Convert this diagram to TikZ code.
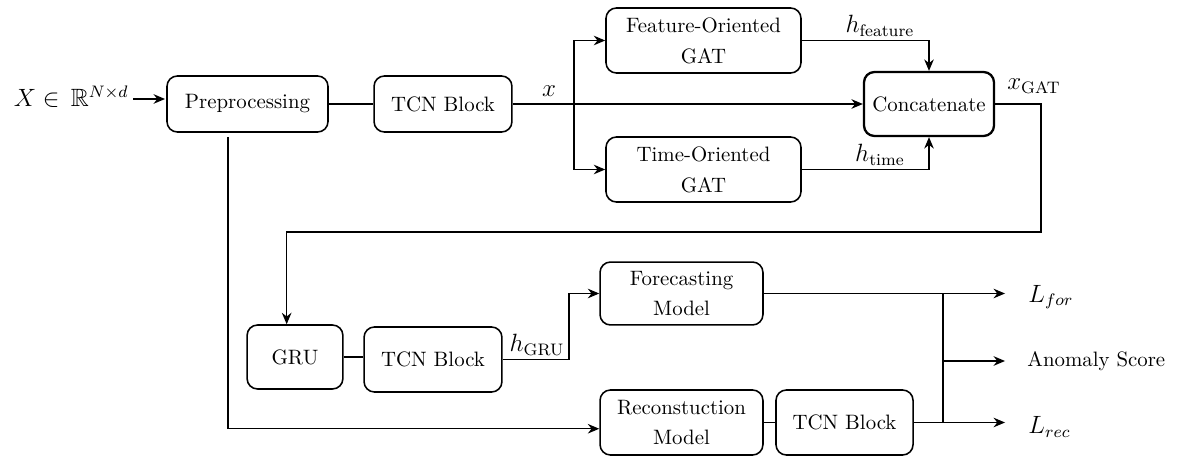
\documentclass[tikz,border=0pt]{standalone}
\usepackage{amsmath,amssymb}
\usetikzlibrary{arrows.meta}
\begin{document}
\begin{tikzpicture}[x=0.48pt,y=-0.48pt,
  box/.style={draw,line width=0.75pt,rounded corners=5pt,align=center,inner sep=0pt,font=\normalsize},
  conn/.style={line width=0.6pt},
  arr/.style={conn,-{Stealth[length=5.5pt,width=4.6pt]}},
  lbl/.style={inner sep=0pt,font=\large}]
\useasboundingbox (0,0) rectangle (1184,460);

% upper path: preprocessing, temporal conv block, two graph attention branches
\node[box,minimum width=77.3pt,minimum height=26.9pt] (pre) at (247.5,104) {Preprocessing};
\node[box,minimum width=66.2pt,minimum height=26.9pt] (tcna) at (443,104) {TCN Block};
\node[box,minimum width=93.6pt,minimum height=31.2pt] (feat) at (703.5,40.5) {Feature-Oriented\\[2.8pt]GAT};
\node[box,minimum width=93.6pt,minimum height=31.2pt] (time) at (703.5,169.5) {Time-Oriented\\[2.8pt]GAT};
\node[box,line width=1.1pt,minimum width=62.4pt,minimum height=30.7pt] (cat) at (929,104) {Concatenate};

% lower path: recurrent unit, second conv block, forecasting and reconstruction heads
\node[box,minimum width=46pt,minimum height=30.7pt] (gru) at (295,357) {GRU};
\node[box,minimum width=66.2pt,minimum height=31.2pt] (tcnb) at (433,359.5) {TCN Block};
\node[box,minimum width=78.2pt,minimum height=30.2pt] (fore) at (681.5,293.5) {Forecasting\\[2.8pt]Model};
\node[box,minimum width=78.2pt,minimum height=31.2pt] (rec) at (681.5,422.5) {Reconstuction\\[2.8pt]Model};
\node[box,minimum width=65.8pt,minimum height=31.2pt] (tcnc) at (844.5,422.5) {TCN Block};

% input and labels
\node[lbl,anchor=east] (in) at (129,97) {$X \in\,\mathbb{R}^{N\times d}$};
\node[lbl] (lx) at (549,91) {$x$};
\node[lbl] (lhf) at (880,26) {$h_{\text{feature}}$};
\node[lbl] (lht) at (880,155) {$h_{\text{time}}$};
\node[lbl] (lxg) at (1034,86) {$x_{\text{GAT}}$};
\node[lbl] (lhg) at (537,345) {$h_{\text{GRU}}$};
\node[lbl,anchor=west] (lfor) at (1028,297) {$L_{for}$};
\node[lbl,anchor=west,font=\normalsize] (lsc) at (1027,361) {Anomaly Score};
\node[lbl,anchor=west] (lrec) at (1028,427) {$L_{rec}$};

% routing points
\coordinate (inend) at (165,99);
\coordinate (br) at (574,104);
\coordinate (down) at (1041,232);
\coordinate (skip) at (228,137);
\coordinate (up) at (569,359.5);
\coordinate (bus) at (943,293.5);
\coordinate (tfor) at (1005,293.5);
\coordinate (tsc) at (1005,361);
\coordinate (trec) at (1005,422.5);

% connectors
\draw[arr] ([xshift=2pt]in.east |- inend) -- (inend);
\draw[conn] (pre) -- (tcna);
\draw[arr] (tcna) -- (cat);
\draw[arr] (br) |- (feat.west);
\draw[arr] (br) |- (time.west);
\draw[arr] (feat.east) -| (cat.north);
\draw[arr] (time.east) -| (cat.south);
\draw[arr] (cat.east) -| (down) -| ([xshift=-4pt]gru.north);
\draw[conn] (gru) -- (gru -| tcnb.west);
\draw[arr] (tcnb.east) -- (up) |- (fore.west);
\draw[arr] (skip) |- ([yshift=-3pt]rec.west);
\draw[conn] (rec) -- (tcnc);
\draw[arr] (fore.east) -- (tfor);
\draw[arr] (tcnc.east) -- (trec);
\draw[conn] (bus) -- (bus |- trec);
\draw[arr] (bus |- tsc) -- (tsc);
\end{tikzpicture}
\end{document}
